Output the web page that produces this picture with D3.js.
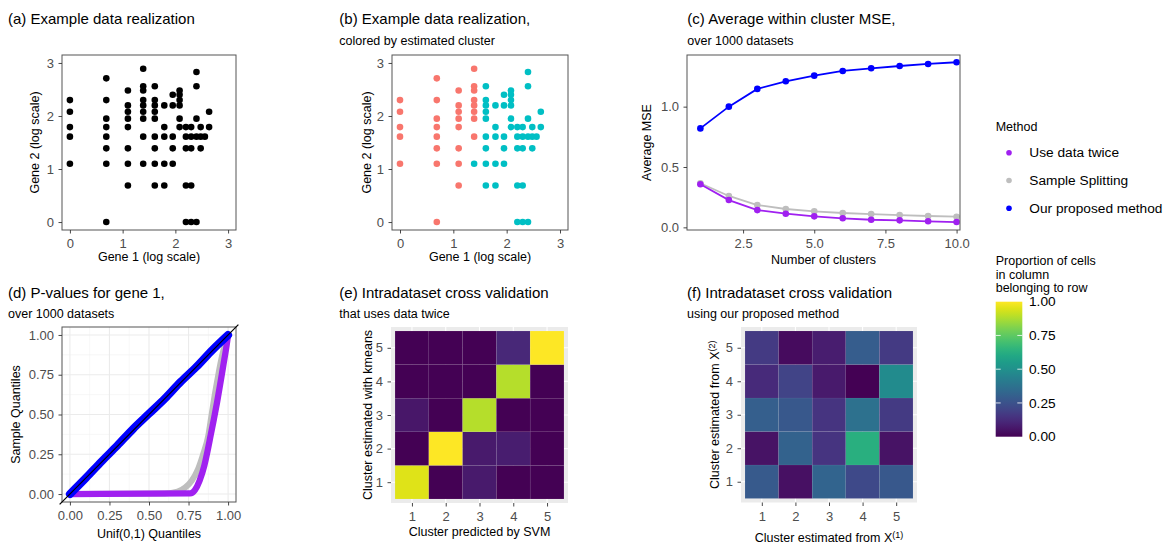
<!DOCTYPE html>
<html>
<head>
<meta charset="utf-8">
<script src="https://cdn.jsdelivr.net/npm/d3@7"></script>
<style>
  body { margin: 0; background: #fff; }
</style>
</head>
<body>
<svg id="fig" width="1168" height="544"></svg>
<script>
// ---- data ----
// (a)/(b) one example dataset, log-scale counts
const gene1 = [
  0, 0, 0, 0, 0,
  0.69, 0.69, 0.69, 0.69, 0.69, 0.69, 0.69, 0.69,
  1.10, 1.10, 1.10, 1.10, 1.10, 1.10, 1.10, 1.10,
  1.39, 1.39, 1.39, 1.39, 1.39, 1.39, 1.39, 1.39, 1.39,
  1.61, 1.61, 1.61, 1.61, 1.61, 1.61, 1.61, 1.61, 1.61,
  1.79, 1.79, 1.79, 1.79, 1.79,
  1.95, 1.95, 1.95, 1.95, 1.95,
  2.08, 2.08, 2.08, 2.08, 2.08, 2.08,
  2.20, 2.20, 2.20, 2.20, 2.20,
  2.30, 2.30, 2.30, 2.30, 2.30,
  2.40, 2.40, 2.40, 2.40, 2.40,
  2.48, 2.48, 2.48,
  2.56,
  2.64, 2.64
];
const gene2 = [
  2.30, 2.08, 1.79, 1.61, 1.10,
  2.71, 2.30, 1.95, 1.79, 1.61, 1.39, 1.10, 0,
  2.48, 2.20, 2.08, 1.95, 1.79, 1.39, 1.10, 0.69,
  2.89, 2.56, 2.48, 2.30, 2.20, 2.08, 1.95, 1.61, 1.10,
  2.56, 2.30, 2.20, 2.08, 1.95, 1.61, 1.39, 1.10, 0.69,
  2.20, 1.79, 1.61, 1.10, 0.69,
  2.40, 2.20, 1.61, 1.39, 1.10,
  2.48, 2.40, 2.30, 2.20, 1.95, 1.79,
  1.79, 1.61, 1.39, 0.69, 0,
  1.79, 1.61, 1.39, 0.69, 0,
  2.83, 2.56, 1.95, 1.61, 0,
  1.79, 1.61, 1.39,
  1.61,
  2.08, 1.79
];
const cluster = [
  1, 1, 1, 1, 1,
  1, 1, 1, 1, 1, 1, 1, 1,
  1, 1, 1, 1, 1, 1, 1, 1,
  1, 1, 1, 1, 1, 1, 1, 1, 2,
  2, 2, 2, 2, 2, 2, 2, 2, 2,
  2, 2, 2, 2, 2,
  2, 2, 2, 2, 2,
  2, 2, 2, 2, 2, 2,
  2, 2, 2, 2, 2,
  2, 2, 2, 2, 2,
  2, 2, 2, 2, 2,
  2, 2, 2,
  2,
  2, 2
];

// (c) average within cluster MSE
const nClusters = [1, 2, 3, 4, 5, 6, 7, 8, 9, 10];
const mseTwice = [0.357, 0.226, 0.143, 0.113, 0.091, 0.075, 0.063, 0.058, 0.050, 0.044];
const mseSplit = [0.365, 0.260, 0.185, 0.152, 0.133, 0.119, 0.110, 0.102, 0.094, 0.088];
const mseOurs  = [0.82, 1.00, 1.147, 1.21, 1.257, 1.296, 1.318, 1.337, 1.354, 1.368];

// (d) QQ curves of p-values (uniform quantile, sample quantile)
const qqTwiceX = [0, 0.76, 0.79, 0.82, 0.85, 0.87, 0.89, 0.91, 0.93, 0.95, 0.97, 0.99, 1.0];
const qqTwiceY = [0, 0.004, 0.025, 0.085, 0.18, 0.27, 0.37, 0.47, 0.575, 0.69, 0.81, 0.93, 1.0];
const qqSplitX = [0, 0.60, 0.68, 0.73, 0.77, 0.81, 0.84, 0.875, 0.895, 0.915, 0.937, 0.96, 0.98, 1.0];
const qqSplitY = [0, 0.004, 0.015, 0.042, 0.084, 0.157, 0.243, 0.368, 0.494, 0.62, 0.744, 0.86, 0.94, 1.0];
const qqOursX  = [0, 0.1, 0.2, 0.3, 0.4, 0.5, 0.6, 0.7, 0.8, 0.9, 1.0];
const qqOursY  = [0, 0.1, 0.205, 0.305, 0.41, 0.505, 0.6, 0.705, 0.8, 0.905, 1.0];

// (e)/(f) proportions, rows = cluster 1..5 (bottom to top), cols = 1..5
const clusterLabels = [1, 2, 3, 4, 5];
const heatTwice = [
  [0.95, 0, 0.07, 0, 0],
  [0, 1.0, 0.07, 0.08, 0],
  [0.06, 0, 0.89, 0, 0],
  [0, 0, 0, 0.89, 0],
  [0, 0, 0, 0.11, 1.0]
];
const heatOurs = [
  [0.28, 0.04, 0.32, 0.22, 0.27],
  [0.05, 0.31, 0.15, 0.63, 0.05],
  [0.30, 0.27, 0.15, 0.37, 0.17],
  [0.12, 0.20, 0.07, 0.0, 0.48],
  [0.17, 0.03, 0.08, 0.29, 0.17]
];

const methods = ["Use data twice", "Sample Splitting", "Our proposed method"];
const methodColors = ["#A020F0", "#BEBEBE", "#0000FF"];
const clusterColors = { 1: "#F8766D", 2: "#00BFC4" };
const legendTicks = [0, 0.25, 0.5, 0.75, 1];

// ---- drawing ----
const FONT = "'Liberation Sans', Arial, Helvetica, sans-serif";
const TICK = 13;
const svg = d3.select("#fig").attr("font-family", FONT);

function titles(x, y, main, sub) {
  svg.append("text").attr("x", x).attr("y", y).attr("font-size", 15).text(main);
  if (sub) svg.append("text").attr("x", x).attr("y", y + 20.5).attr("font-size", 12.5).text(sub);
}

function styleAxis(g) {
  g.attr("font-family", FONT).attr("font-size", TICK);
  g.select(".domain").remove();
  g.selectAll(".tick line").attr("stroke", "#333").attr("stroke-width", 0.9);
  g.selectAll(".tick text").attr("fill", "#4d4d4d");
}

function axes(p, x, y, xt, yt, xfmt, yfmt) {
  svg.append("g").attr("transform", `translate(0,${p.b})`)
    .call(d3.axisBottom(x).tickValues(xt).tickFormat(xfmt).tickSize(3.5).tickPadding(5.5))
    .call(styleAxis);
  svg.append("g").attr("transform", `translate(${p.l},0)`)
    .call(d3.axisLeft(y).tickValues(yt).tickFormat(yfmt).tickSize(3.5).tickPadding(4.5))
    .call(styleAxis);
}

function axisTitles(p, xlab, xBase, ylab, yBase) {
  const xt = svg.append("text").attr("x", (p.l + p.r) / 2).attr("y", xBase)
    .attr("text-anchor", "middle").attr("font-size", 12.5);
  const yt = svg.append("text")
    .attr("transform", `translate(${yBase},${(p.t + p.b) / 2}) rotate(-90)`)
    .attr("text-anchor", "middle").attr("font-size", 12.5);
  [[xt, xlab], [yt, ylab]].forEach(([el, lab]) => {
    if (typeof lab === "string") el.text(lab);
    else {
      el.append("tspan").text(lab[0]);
      el.append("tspan").attr("dy", "-0.45em").attr("font-size", 9).text(lab[1]);
    }
  });
}

function border(p) {
  svg.append("rect").attr("x", p.l).attr("y", p.t)
    .attr("width", p.r - p.l).attr("height", p.b - p.t)
    .attr("fill", "none").attr("stroke", "#555").attr("stroke-width", 1);
}

const fmtInt = d3.format("d");

// (a) and (b) scatter
function scatter(p, colorFn) {
  const x = d3.scaleLinear().domain([-0.15, 3.15]).range([p.l, p.r]);
  const y = d3.scaleLinear().domain([-0.15, 3.15]).range([p.b, p.t]);
  svg.append("g").selectAll("circle")
    .data(gene1.map((g, i) => ({ g1: g, g2: gene2[i], c: cluster[i] })))
    .enter().append("circle")
    .attr("cx", d => x(d.g1)).attr("cy", d => y(d.g2)).attr("r", 3.3)
    .attr("fill", colorFn);
  border(p);
  axes(p, x, y, [0, 1, 2, 3], [0, 1, 2, 3], fmtInt, fmtInt);
}

const pA = { l: 62, t: 55, r: 236, b: 230 };
titles(8, 24, "(a) Example data realization");
scatter(pA, () => "#000");
axisTitles(pA, "Gene 1 (log scale)", 261, "Gene 2 (log scale)", 39);

const pB = { l: 392, t: 55, r: 568, b: 230 };
titles(339.3, 24, "(b) Example data realization,", "colored by estimated cluster");
scatter(pB, d => clusterColors[d.c]);
axisTitles(pB, "Gene 1 (log scale)", 261, "Gene 2 (log scale)", 371.3);

// (c) MSE lines
const pC = { l: 687, t: 55, r: 960, b: 230 };
titles(687.3, 24, "(c) Average within cluster MSE,", "over 1000 datasets");
{
  const x = d3.scaleLinear().domain([0.53, 10.12]).range([pC.l, pC.r]);
  const y = d3.scaleLinear().domain([-0.022, 1.428]).range([pC.b, pC.t]);
  const series = [mseTwice, mseSplit, mseOurs];
  const line = d3.line().x((d, i) => x(nClusters[i])).y(d => y(d));
  [1, 0, 2].forEach(k => {
    svg.append("path").attr("d", line(series[k])).attr("fill", "none")
      .attr("stroke", methodColors[k]).attr("stroke-width", 1.8);
    svg.append("g").selectAll("circle").data(series[k]).enter().append("circle")
      .attr("cx", (d, i) => x(nClusters[i])).attr("cy", d => y(d)).attr("r", 3.3)
      .attr("fill", methodColors[k]);
  });
  border(pC);
  axes(pC, x, y, [2.5, 5, 7.5, 10], [0, 0.5, 1], d3.format(".1f"), d3.format(".1f"));
}
axisTitles(pC, "Number of clusters", 264, "Average MSE", 651);

// (d) QQ plot
const pD = { l: 62, t: 327, r: 236, b: 502 };
titles(8, 297.5, "(d) P-values for gene 1,", "over 1000 datasets");
{
  const x = d3.scaleLinear().domain([-0.05, 1.05]).range([pD.l, pD.r]);
  const y = d3.scaleLinear().domain([-0.05, 1.05]).range([pD.b, pD.t]);
  const grid = svg.append("g");
  const minor = [0.125, 0.375, 0.625, 0.875];
  const major = [0, 0.25, 0.5, 0.75, 1];
  minor.forEach(v => {
    grid.append("line").attr("x1", x(v)).attr("x2", x(v)).attr("y1", pD.t).attr("y2", pD.b)
      .attr("stroke", "#f2f2f2").attr("stroke-width", 0.6);
    grid.append("line").attr("y1", y(v)).attr("y2", y(v)).attr("x1", pD.l).attr("x2", pD.r)
      .attr("stroke", "#f2f2f2").attr("stroke-width", 0.6);
  });
  major.forEach(v => {
    grid.append("line").attr("x1", x(v)).attr("x2", x(v)).attr("y1", pD.t).attr("y2", pD.b)
      .attr("stroke", "#ebebeb").attr("stroke-width", 1.1);
    grid.append("line").attr("y1", y(v)).attr("y2", y(v)).attr("x1", pD.l).attr("x2", pD.r)
      .attr("stroke", "#ebebeb").attr("stroke-width", 1.1);
  });
  svg.append("clipPath").attr("id", "clipD").append("rect")
    .attr("x", pD.l).attr("y", pD.t).attr("width", pD.r - pD.l).attr("height", pD.b - pD.t);
  const gd = svg.append("g").attr("clip-path", "url(#clipD)");
  const qq = [[qqTwiceX, qqTwiceY], [qqSplitX, qqSplitY], [qqOursX, qqOursY]];
  const line = d3.line().curve(d3.curveMonotoneX);
  [[1, 6], [0, 6.3], [2, 8]].forEach(([k, w]) => {
    const [xs, ys] = qq[k];
    gd.append("path").attr("d", line(xs.map((v, i) => [x(v), y(ys[i])])))
      .attr("fill", "none").attr("stroke", methodColors[k]).attr("stroke-width", w)
      .attr("stroke-linecap", "round").attr("stroke-linejoin", "round");
  });
  border(pD);
  // reference line y = x, running a little past the panel corners
  svg.append("line").attr("x1", x(-0.065)).attr("y1", y(-0.065)).attr("x2", x(1.065)).attr("y2", y(1.065))
    .attr("stroke", "#000").attr("stroke-width", 1.2);
  axes(pD, x, y, major, major, d3.format(".2f"), d3.format(".2f"));
}
axisTitles(pD, "Unif(0,1) Quantiles", 537.5, "Sample Quantiles", 20);

// (e)/(f) heatmaps
function heatmap(p, mat) {
  const x = d3.scaleLinear().domain([0.38, 5.62]).range([p.l, p.r]);
  const y = d3.scaleLinear().domain([0.38, 5.62]).range([p.b, p.t]);
  svg.append("rect").attr("x", p.l).attr("y", p.t).attr("width", p.r - p.l)
    .attr("height", p.b - p.t).attr("fill", "#ebebeb");
  clusterLabels.forEach(v => {
    svg.append("line").attr("x1", x(v)).attr("x2", x(v)).attr("y1", p.t).attr("y2", p.b)
      .attr("stroke", "#fff").attr("stroke-width", 1.1);
    svg.append("line").attr("y1", y(v)).attr("y2", y(v)).attr("x1", p.l).attr("x2", p.r)
      .attr("stroke", "#fff").attr("stroke-width", 1.1);
  });
  const cells = [];
  mat.forEach((row, r) => row.forEach((v, c) => cells.push({ r: clusterLabels[r], c: clusterLabels[c], v })));
  svg.append("g").selectAll("rect").data(cells).enter().append("rect")
    .attr("x", d => x(d.c - 0.5)).attr("y", d => y(d.r + 0.5))
    .attr("width", x(1.5) - x(0.5)).attr("height", y(0.5) - y(1.5))
    .attr("fill", d => d3.interpolateViridis(d.v))
    .attr("stroke", "rgba(255,255,255,0.08)").attr("stroke-width", 0.6);
  axes(p, x, y, clusterLabels, clusterLabels, fmtInt, fmtInt);
}

const pE = { l: 391, t: 327, r: 568, b: 503 };
titles(339.3, 297.5, "(e) Intradataset cross validation", "that uses data twice");
heatmap(pE, heatTwice);
axisTitles(pE, "Cluster predicted by SVM", 536, "Cluster estimated with kmeans", 371.7);

const pF = { l: 741, t: 327, r: 917, b: 502.5 };
titles(687, 297.5, "(f) Intradataset cross validation", "using our proposed method");
heatmap(pF, heatOurs);
axisTitles(pF, ["Cluster estimated from X", "(1)"], 542, ["Cluster estimated from X", "(2)"], 719.3);

// ---- legends ----
svg.append("text").attr("x", 995.7).attr("y", 131).attr("font-size", 12.5).text("Method");
methods.forEach((m, i) => {
  const cy = 152.7 + i * 27.8;
  svg.append("circle").attr("cx", 1009).attr("cy", cy).attr("r", 2.8).attr("fill", methodColors[i]);
  svg.append("text").attr("x", 1029.3).attr("y", cy + 4.6).attr("font-size", 13.7).text(m);
});

["Proportion of cells", "in column", "belonging to row"].forEach((t, i) => {
  svg.append("text").attr("x", 995.7).attr("y", 265.3 + i * 13.5).attr("font-size", 12.5).text(t);
});
{
  const yL = d3.scaleLinear().domain([0, 1]).range([436.7, 301.7]);
  const grad = svg.append("defs").append("linearGradient").attr("id", "viridisBar")
    .attr("x1", 0).attr("y1", 1).attr("x2", 0).attr("y2", 0);
  d3.range(0, 1.0001, 0.05).forEach(t => {
    grad.append("stop").attr("offset", t).attr("stop-color", d3.interpolateViridis(t));
  });
  const bx = 995.7, bw = 26.6;
  svg.append("rect").attr("x", bx).attr("y", yL(1)).attr("width", bw)
    .attr("height", yL(0) - yL(1)).attr("fill", "url(#viridisBar)");
  legendTicks.slice(1, 4).forEach(v => {
    svg.append("line").attr("x1", bx).attr("x2", bx + 5).attr("y1", yL(v)).attr("y2", yL(v))
      .attr("stroke", "#fff").attr("stroke-opacity", 0.8);
    svg.append("line").attr("x1", bx + bw - 5).attr("x2", bx + bw).attr("y1", yL(v)).attr("y2", yL(v))
      .attr("stroke", "#fff").attr("stroke-opacity", 0.8);
  });
  legendTicks.forEach(v => {
    svg.append("text").attr("x", 1029).attr("y", yL(v) + 4.6).attr("font-size", 13.7)
      .text(d3.format(".2f")(v));
  });
}
</script>
</body>
</html>
